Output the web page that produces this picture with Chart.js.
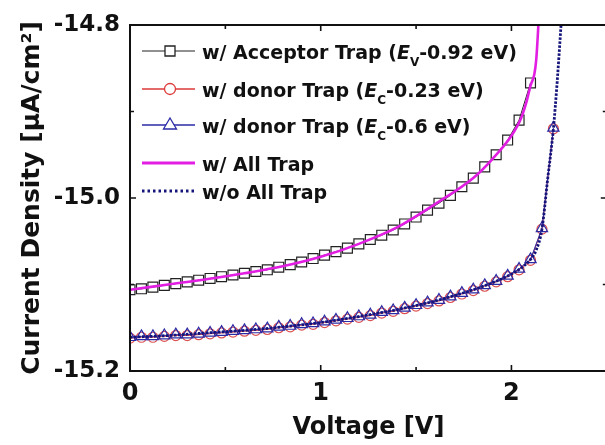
<!DOCTYPE html>
<html>
<head>
<meta charset="utf-8">
<script src="https://cdn.jsdelivr.net/npm/chart.js@4.4.0/dist/chart.umd.min.js"></script>
<style>
  html, body { margin: 0; padding: 0; background: #fff; overflow: hidden; }
  #wrap { width: 615px; height: 445px; }
</style>
</head>
<body>
<div id="wrap"><canvas id="chart" width="615" height="445"></canvas></div>
<script>
// Voltage of the marker points (V)
const markerVoltage = [
  0.00, 0.06, 0.12, 0.18, 0.24, 0.30, 0.36, 0.42, 0.48, 0.54,
  0.60, 0.66, 0.72, 0.78, 0.84, 0.90, 0.96, 1.02, 1.08, 1.14,
  1.20, 1.26, 1.32, 1.38, 1.44, 1.50, 1.56, 1.62, 1.68, 1.74,
  1.80, 1.86, 1.92, 1.98, 2.04, 2.10, 2.16, 2.22
];

// w/ Acceptor Trap (Ev-0.92 eV), squares
const acceptorTrap = [
  -15.106, -15.105, -15.103, -15.101, -15.099, -15.097, -15.095, -15.093, -15.091, -15.089,
  -15.087, -15.085, -15.083, -15.080, -15.077, -15.074, -15.070, -15.066, -15.062, -15.058,
  -15.053, -15.048, -15.043, -15.037, -15.030, -15.022, -15.014, -15.006, -14.997, -14.987,
  -14.977, -14.964, -14.950, -14.933, -14.910, -14.867
];

// w/ donor Trap (Ec-0.23 eV), circles
const donorShallow = [
  -15.162, -15.161, -15.161, -15.160, -15.159, -15.159, -15.158, -15.157, -15.156, -15.155,
  -15.154, -15.153, -15.152, -15.150, -15.149, -15.147, -15.146, -15.144, -15.142, -15.140,
  -15.138, -15.136, -15.133, -15.131, -15.128, -15.125, -15.122, -15.119, -15.115, -15.111,
  -15.107, -15.102, -15.097, -15.091, -15.083, -15.072, -15.036, -14.920
];

// w/ donor Trap (Ec-0.6 eV), triangles
const donorDeep = [
  -15.161, -15.160, -15.160, -15.159, -15.158, -15.158, -15.157, -15.156, -15.155, -15.154,
  -15.153, -15.152, -15.151, -15.149, -15.148, -15.146, -15.145, -15.143, -15.141, -15.139,
  -15.137, -15.135, -15.132, -15.130, -15.127, -15.124, -15.121, -15.118, -15.114, -15.110,
  -15.106, -15.101, -15.096, -15.090, -15.082, -15.071, -15.035, -14.919
];

// w/ All Trap, solid magenta line
const allTrapVoltage = [0, 0.2, 0.4, 0.6, 0.8, 1.0, 1.2, 1.4, 1.6, 1.8, 1.9, 2.0, 2.05, 2.08, 2.10, 2.12, 2.13, 2.14, 2.15];
const allTrap = [
  -15.106, -15.100, -15.094, -15.087, -15.079, -15.068, -15.053, -15.034, -15.007, -14.977,
  -14.955, -14.928, -14.908, -14.888, -14.870, -14.857, -14.840, -14.805, -14.760
];

// w/o All Trap, dotted navy line
const noTrapVoltage = [0, 0.2, 0.4, 0.6, 0.8, 1.0, 1.2, 1.4, 1.6, 1.8, 1.9, 2.0, 2.05, 2.10, 2.13, 2.16, 2.19, 2.22, 2.24, 2.26, 2.28];
const noTrap = [
  -15.161, -15.159, -15.156, -15.153, -15.149, -15.144, -15.137, -15.129, -15.119, -15.106,
  -15.098, -15.088, -15.081, -15.071, -15.060, -15.036, -14.978, -14.920, -14.865, -14.800, -14.730
];

const xTicks = [0, 1, 2];
const yTicks = [-15.2, -15.0, -14.8];

const FONT = 'DejaVu Sans';

function toPoints(xs, ys) {
  return ys.map((v, i) => ({ x: xs[i], y: v }));
}

// Legend with italic E and subscripts
const legendRows = [
  { y: 59, parts: [['w/ Acceptor Trap (', 'n'], ['E', 'i'], ['V', 's'], ['-0.92 eV)', 'n']], line: '#222', width: 1, marker: 'rect', color: '#222' },
  { y: 97, parts: [['w/ donor Trap (', 'n'], ['E', 'i'], ['C', 's'], ['-0.23 eV)', 'n']], line: '#dd3a3a', width: 1.5, marker: 'circle', color: '#dd3a3a' },
  { y: 133, parts: [['w/ donor Trap (', 'n'], ['E', 'i'], ['C', 's'], ['-0.6 eV)', 'n']], line: '#2b2ba6', width: 1.5, marker: 'triangle', color: '#2b2ba6' },
  { y: 171, parts: [['w/ All Trap', 'n']], line: '#e31ee3', width: 3 },
  { y: 199, parts: [['w/o All Trap', 'n']], line: '#14147a', width: 3, dash: [2.5, 3] }
];

function drawMarker(ctx, type, x, y) {
  ctx.beginPath();
  if (type === 'rect') {
    ctx.rect(x - 5, y - 5, 10, 10);
  } else if (type === 'circle') {
    ctx.arc(x, y, 5.5, 0, Math.PI * 2);
  } else {
    ctx.moveTo(x, y - 7);
    ctx.lineTo(x + 6.5, y + 4);
    ctx.lineTo(x - 6.5, y + 4);
    ctx.closePath();
  }
  ctx.fill();
  ctx.stroke();
}

const legendPlugin = {
  id: 'richLegend',
  afterDraw(chart) {
    const ctx = chart.ctx;
    ctx.save();
    legendRows.forEach(row => {
      const ly = row.y - 8;
      ctx.strokeStyle = row.line;
      ctx.lineWidth = row.width;
      ctx.setLineDash(row.dash || []);
      ctx.beginPath();
      ctx.moveTo(142, ly);
      ctx.lineTo(195, ly);
      ctx.stroke();
      ctx.setLineDash([]);
      if (row.marker) {
        ctx.fillStyle = '#fff';
        ctx.strokeStyle = row.color;
        ctx.lineWidth = 1.3;
        drawMarker(ctx, row.marker, 170, ly);
      }
      let x = 202;
      ctx.fillStyle = '#111';
      ctx.textBaseline = 'alphabetic';
      row.parts.forEach(([text, kind]) => {
        let dy = 0;
        if (kind === 'i') ctx.font = 'italic bold 19px "' + FONT + '"';
        else if (kind === 's') { ctx.font = 'bold 12px "' + FONT + '"'; dy = 7; }
        else ctx.font = 'bold 19px "' + FONT + '"';
        ctx.fillText(text, x, row.y + dy);
        x += ctx.measureText(text).width;
      });
    });
    ctx.restore();
  }
};

// Box frame with inward major/minor ticks on all four sides
const framePlugin = {
  id: 'frame',
  afterDraw(chart) {
    const { ctx, chartArea: a, scales: { x, y } } = chart;
    ctx.save();
    ctx.strokeStyle = '#111';
    ctx.lineWidth = 2;
    ctx.strokeRect(a.left, a.top, a.right - a.left, a.bottom - a.top);
    ctx.lineWidth = 1.6;
    ctx.beginPath();
    x.ticks.forEach(t => {
      const px = x.getPixelForValue(t.value);
      const len = xTicks.includes(t.value) ? 6 : 4;
      ctx.moveTo(px, a.bottom); ctx.lineTo(px, a.bottom - len);
      ctx.moveTo(px, a.top); ctx.lineTo(px, a.top + len);
    });
    y.ticks.forEach(t => {
      const py = y.getPixelForValue(t.value);
      const major = Math.round(t.value * 10) % 2 === 0;
      const len = major ? 6 : 4;
      ctx.moveTo(a.left, py); ctx.lineTo(a.left + len, py);
      ctx.moveTo(a.right, py); ctx.lineTo(a.right - len, py);
    });
    ctx.stroke();
    ctx.restore();
  }
};

new Chart(document.getElementById('chart'), {
  type: 'scatter',
  data: {
    datasets: [
      {
        label: 'w/ Acceptor Trap (Ev-0.92 eV)',
        data: toPoints(markerVoltage, acceptorTrap),
        showLine: true,
        borderColor: '#222',
        borderWidth: 1,
        pointStyle: 'rect',
        pointRadius: 7,
        pointBorderWidth: 1.2,
        pointBorderColor: '#222',
        pointBackgroundColor: 'rgba(0,0,0,0)',
        order: 5
      },
      {
        label: 'w/ donor Trap (Ec-0.23 eV)',
        data: toPoints(markerVoltage, donorShallow),
        showLine: true,
        borderColor: '#dd3a3a',
        borderWidth: 1,
        pointStyle: 'circle',
        pointRadius: 5,
        pointBorderWidth: 1.2,
        pointBorderColor: '#dd5050',
        pointBackgroundColor: 'rgba(0,0,0,0)',
        order: 4
      },
      {
        label: 'w/ donor Trap (Ec-0.6 eV)',
        data: toPoints(markerVoltage, donorDeep),
        showLine: true,
        borderColor: '#2b2ba6',
        borderWidth: 1,
        pointStyle: 'triangle',
        pointRadius: 6.5,
        pointBorderWidth: 1.2,
        pointBorderColor: '#2b2ba6',
        pointBackgroundColor: 'rgba(0,0,0,0)',
        order: 3
      },
      {
        label: 'w/ All Trap',
        data: toPoints(allTrapVoltage, allTrap),
        showLine: true,
        borderColor: '#e31ee3',
        borderWidth: 2.6,
        pointRadius: 0,
        cubicInterpolationMode: 'monotone',
        order: 2
      },
      {
        label: 'w/o All Trap',
        data: toPoints(noTrapVoltage, noTrap),
        showLine: true,
        borderColor: '#14147a',
        borderWidth: 2.8,
        borderDash: [2.5, 1.5],
        pointRadius: 0,
        cubicInterpolationMode: 'monotone',
        order: 1
      }
    ]
  },
  options: {
    responsive: false,
    animation: false,
    devicePixelRatio: 1,
    layout: { padding: { top: 25, right: 5, left: 0, bottom: 0 } },
    plugins: { legend: { display: false }, tooltip: { enabled: false } },
    scales: {
      x: {
        type: 'linear',
        min: 0,
        max: 2.5,
        grid: { display: false, drawTicks: false },
        border: { display: false },
        ticks: {
          stepSize: 0.5,
          autoSkip: false,
          maxRotation: 0,
          padding: 8,
          color: '#111',
          font: { family: FONT, size: 24, weight: 'bold' },
          callback: v => xTicks.includes(v) ? String(v) : ''
        },
        title: {
          display: true,
          text: 'Voltage [V]',
          color: '#111',
          font: { family: FONT, size: 24, weight: 'bold' },
          padding: { top: 0, bottom: 3 }
        },
        afterFit: s => { s.height = 74; }
      },
      y: {
        min: -15.2,
        max: -14.8,
        grid: { display: false, drawTicks: false },
        border: { display: false },
        ticks: {
          stepSize: 0.1,
          autoSkip: false,
          padding: 10,
          color: '#111',
          font: { family: FONT, size: 23, weight: 'bold' },
          callback: v => Math.round(v * 10) % 2 === 0 ? v.toFixed(1) : ''
        },
        title: {
          display: true,
          text: 'Current Density [μA/cm²]',
          color: '#111',
          font: { family: FONT, size: 25, weight: 'bold' },
          padding: { top: 17, bottom: 0 }
        },
        afterFit: s => { s.width = 130; }
      }
    }
  },
  plugins: [framePlugin, legendPlugin]
});
</script>
</body>
</html>
